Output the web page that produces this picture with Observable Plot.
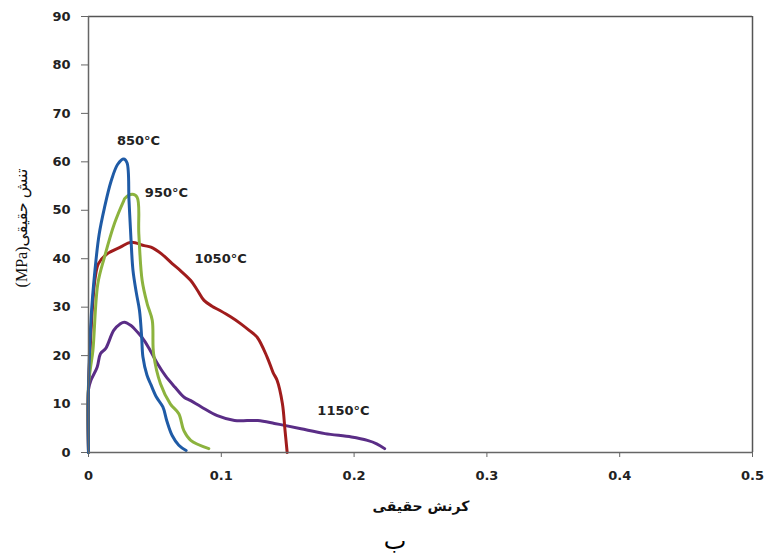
<!DOCTYPE html>
<html><head><meta charset="utf-8">
<script src="https://cdn.jsdelivr.net/npm/d3@7"></script>
<script src="https://cdn.jsdelivr.net/npm/@observablehq/plot@0.6"></script>
<style>
body{margin:0;background:#fff;font-family:"DejaVu Sans",sans-serif;}
#cap{width:766px;text-align:center;font-size:24px;height:34px;line-height:34px;padding-top:2px;color:#000;}
#cap span{position:relative;left:12px;}
</style>
</head><body><div id="chart"></div><div id="cap"><span>ب</span></div>
<script>
const seriesNames = ["850°C", "950°C", "1050°C", "1150°C"];
const seriesColors = ["#1f5ba6", "#8cb33e", "#a01c1c", "#5a2d86"];

const strain850 = [0, 0, 0.002, 0.005, 0.008, 0.012, 0.017, 0.022, 0.0265, 0.029, 0.0305, 0.032, 0.0335, 0.036, 0.0384, 0.040, 0.041, 0.044, 0.047, 0.051, 0.056, 0.059, 0.063, 0.068, 0.0735];
const stress850 = [0, 13, 28, 38, 45, 50.5, 56, 59.5, 60.6, 59.8, 52, 44, 37.6, 33, 29.3, 24, 19.7, 16, 14, 11.5, 9.4, 6.5, 3.5, 1.5, 0.4];

const strain950 = [0, 0, 0.0015, 0.0033, 0.007, 0.012, 0.0196, 0.0266, 0.0275, 0.0329, 0.0366, 0.0379, 0.0404, 0.0442, 0.048, 0.049, 0.0542, 0.0617, 0.068, 0.0718, 0.077, 0.0906];
const stress950 = [0, 14, 17.5, 21, 34.8, 40.3, 47.3, 52, 52.5, 53.3, 52.7, 45.1, 35.5, 30.7, 27.3, 20.4, 14.2, 10, 8, 4.5, 2.5, 0.8];

const strain1050 = [0, 0, 0.001, 0.003, 0.005, 0.0075, 0.014, 0.024, 0.032, 0.042, 0.047, 0.055, 0.063, 0.069, 0.077, 0.082, 0.087, 0.093, 0.099, 0.107, 0.1145, 0.121, 0.127, 0.1345, 0.139, 0.142, 0.146, 0.148, 0.1496];
const stress1050 = [0, 13, 20, 30, 36, 39, 41, 42.4, 43.4, 42.7, 42.4, 41, 39, 37.6, 35.5, 33.5, 31.4, 30.2, 29.3, 28, 26.6, 25.2, 23.8, 19.7, 16.5, 14.9, 10.1, 4.5, 0];

const strain1150 = [0, 0, 0.002, 0.0065, 0.009, 0.013, 0.019, 0.024, 0.027, 0.032, 0.037, 0.042, 0.047, 0.052, 0.058, 0.065, 0.072, 0.077, 0.085, 0.097, 0.11, 0.1275, 0.14, 0.1476, 0.16, 0.178, 0.198, 0.21, 0.217, 0.223];
const stress1150 = [0, 13, 15, 17.6, 20.4, 21.5, 25.2, 26.6, 26.9, 26.2, 24.8, 23.1, 20.8, 18.3, 15.8, 13.5, 11.4, 10.7, 9.4, 7.6, 6.6, 6.6, 6, 5.6, 4.9, 3.9, 3.2, 2.5, 1.8, 0.8];

const labelTexts = ["850°C", "950°C", "1050°C", "1150°C"];
const labelStrain = [0.0377, 0.0587, 0.0995, 0.192];
const labelStress = [64.4, 53.5, 40.0, 8.7];

const xTicks = [0, 0.1, 0.2, 0.3, 0.4, 0.5];
const yTicks = [0, 10, 20, 30, 40, 50, 60, 70, 80, 90];
const xLabel = "کرنش حقیقی";
const yLabel = "(MPa)تنش حقیقی";

const strains = [strain850, strain950, strain1050, strain1150];
const stresses = [stress850, stress950, stress1050, stress1150];
const rows = [];
seriesNames.forEach((name, i) => {
  strains[i].forEach((s, j) => rows.push({series: name, strain: s, stress: stresses[i][j]}));
});
const labels = labelTexts.map((t, i) => ({t, x: labelStrain[i], y: labelStress[i]}));
const drawOrder = ["1150°C", "1050°C", "950°C", "850°C"];

const W = 766, H = 522;
const plot = Plot.plot({
  width: W, height: H,
  marginLeft: 88, marginRight: 14, marginTop: 16, marginBottom: H - 452,
  style: {fontFamily: "DejaVu Sans, sans-serif", background: "#fff", overflow: "visible"},
  x: {domain: [0, 0.5]},
  y: {domain: [0, 90]},
  color: {domain: seriesNames, range: seriesColors},
  marks: [
    Plot.ruleY([90], {stroke: "#555", strokeWidth: 1.5}),
    Plot.ruleX([0.5], {stroke: "#555", strokeWidth: 1.5}),
    Plot.axisX({ticks: xTicks, tickFormat: d => d === 0 ? "0" : d3.format(".1f")(d), tickSize: 5, tickPadding: 13, fontSize: 13, fontWeight: "bold", label: null, stroke: "#666", color: "#222"}),
    Plot.axisY({ticks: yTicks, tickSize: 7, tickPadding: 11, fontSize: 13, fontWeight: "bold", label: null, stroke: "#666", color: "#222"}),
    ...drawOrder.map(n => Plot.line(rows.filter(r => r.series === n), {x: "strain", y: "stress", stroke: "series", strokeWidth: 3, curve: "catmull-rom", strokeLinejoin: "round", strokeLinecap: "round"})),
    Plot.ruleY([0], {stroke: "#666", strokeWidth: 1.5}),
    Plot.ruleX([0], {stroke: "#666", strokeWidth: 1.5}),
    Plot.text(labels, {x: "x", y: "y", text: "t", fontSize: 13, fontWeight: "bold", fill: "#222"})
  ]
});
const svg = d3.select(plot);
svg.append("text")
  .attr("x", 421).attr("y", 511)
  .attr("text-anchor", "middle")
  .attr("font-size", 14).attr("font-weight", "bold").attr("fill", "#111")
  .text(xLabel);
svg.append("text")
  .attr("transform", "translate(27,228) rotate(-90)")
  .attr("text-anchor", "middle")
  .attr("font-family", "Liberation Serif, DejaVu Sans, serif")
  .attr("font-size", 16).attr("fill", "#111")
  .text(yLabel);
document.getElementById("chart").append(plot);
</script></body></html>
